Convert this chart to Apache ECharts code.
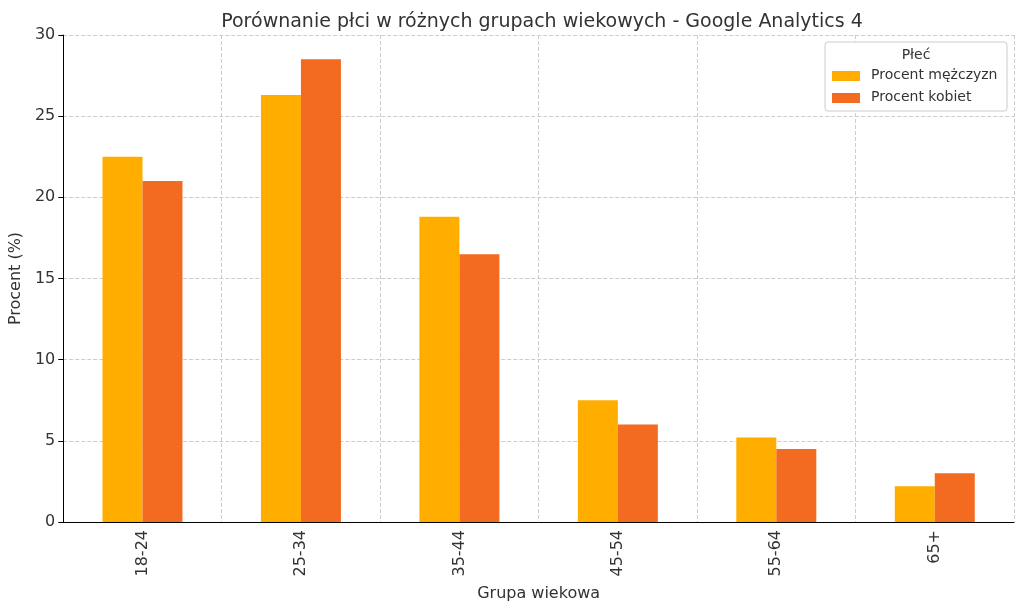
<!DOCTYPE html>
<html><head><meta charset="utf-8">
<script src="https://cdn.jsdelivr.net/npm/echarts@6/dist/echarts.min.js"></script>
<style>html,body{margin:0;background:#fff}#c{width:1024px;height:611px}</style>
</head><body><div id="c"></div>
<script>
const categories = ['18-24','25-34','35-44','45-54','55-64','65+'];
const male = [22.5, 26.3, 18.8, 7.5, 5.2, 2.2];
const female = [21.0, 28.5, 16.5, 6.0, 4.5, 3.0];
const yTicks = [0,5,10,15,20,25,30];
const ff = 'DejaVu Sans';
const chart = echarts.init(document.getElementById('c'));
chart.setOption({
  backgroundColor:'#fff',
  animation:false,
  title:{text:'Porównanie płci w różnych grupach wiekowych - Google Analytics 4',left:537,top:8,textAlign:'center',
    textStyle:{fontFamily:ff,fontSize:19,fontWeight:'normal',color:'#333'}},
  grid:{left:60,right:10,top:35,bottom:89},
  legend:{show:false},
  graphic:[
    {type:'rect',shape:{x:825,y:42,width:182,height:69,r:3},style:{fill:'#fff',stroke:'#ccc',lineWidth:1},z:10},
    {type:'text',x:916,y:48,style:{text:'Płeć',fontFamily:ff,fontSize:14,fill:'#333',align:'center'},z:11},
    {type:'rect',shape:{x:832,y:71,width:28,height:10},style:{fill:'#FFAE00'},z:11},
    {type:'text',x:871,y:68,style:{text:'Procent mężczyzn',fontFamily:ff,fontSize:14,fill:'#333'},z:11},
    {type:'rect',shape:{x:832,y:93,width:28,height:10},style:{fill:'#F26B21'},z:11},
    {type:'text',x:871,y:90,style:{text:'Procent kobiet',fontFamily:ff,fontSize:14,fill:'#333'},z:11}
  ],
  xAxis:{type:'category',data:categories,name:'Grupa wiekowa',nameLocation:'middle',nameGap:64,
    nameTextStyle:{fontFamily:ff,fontSize:16,color:'#333'},
    axisLine:{lineStyle:{color:'#000'}},axisTick:{alignWithLabel:true,lineStyle:{color:'#000'}},
    axisLabel:{rotate:90,fontFamily:ff,fontSize:16,color:'#333'},
    splitLine:{show:true,lineStyle:{type:'dashed',color:'#ccc'}}},
  yAxis:{type:'value',min:yTicks[0],max:yTicks[yTicks.length-1],interval:5,name:'Procent (%)',nameLocation:'middle',nameGap:38,
    nameTextStyle:{fontFamily:ff,fontSize:16,color:'#333'},
    axisLine:{show:true,lineStyle:{color:'#000'}},axisTick:{show:true,lineStyle:{color:'#000'}},
    axisLabel:{fontFamily:ff,fontSize:16,color:'#333'},
    splitLine:{lineStyle:{type:'dashed',color:'#ccc'}}},
  series:[
    {name:'Procent mężczyzn',type:'bar',data:male,barWidth:40,barGap:'0%',itemStyle:{color:'#FFAE00'}},
    {name:'Procent kobiet',type:'bar',data:female,barWidth:40,itemStyle:{color:'#F26B21'}}
  ]
});
</script></body></html>
